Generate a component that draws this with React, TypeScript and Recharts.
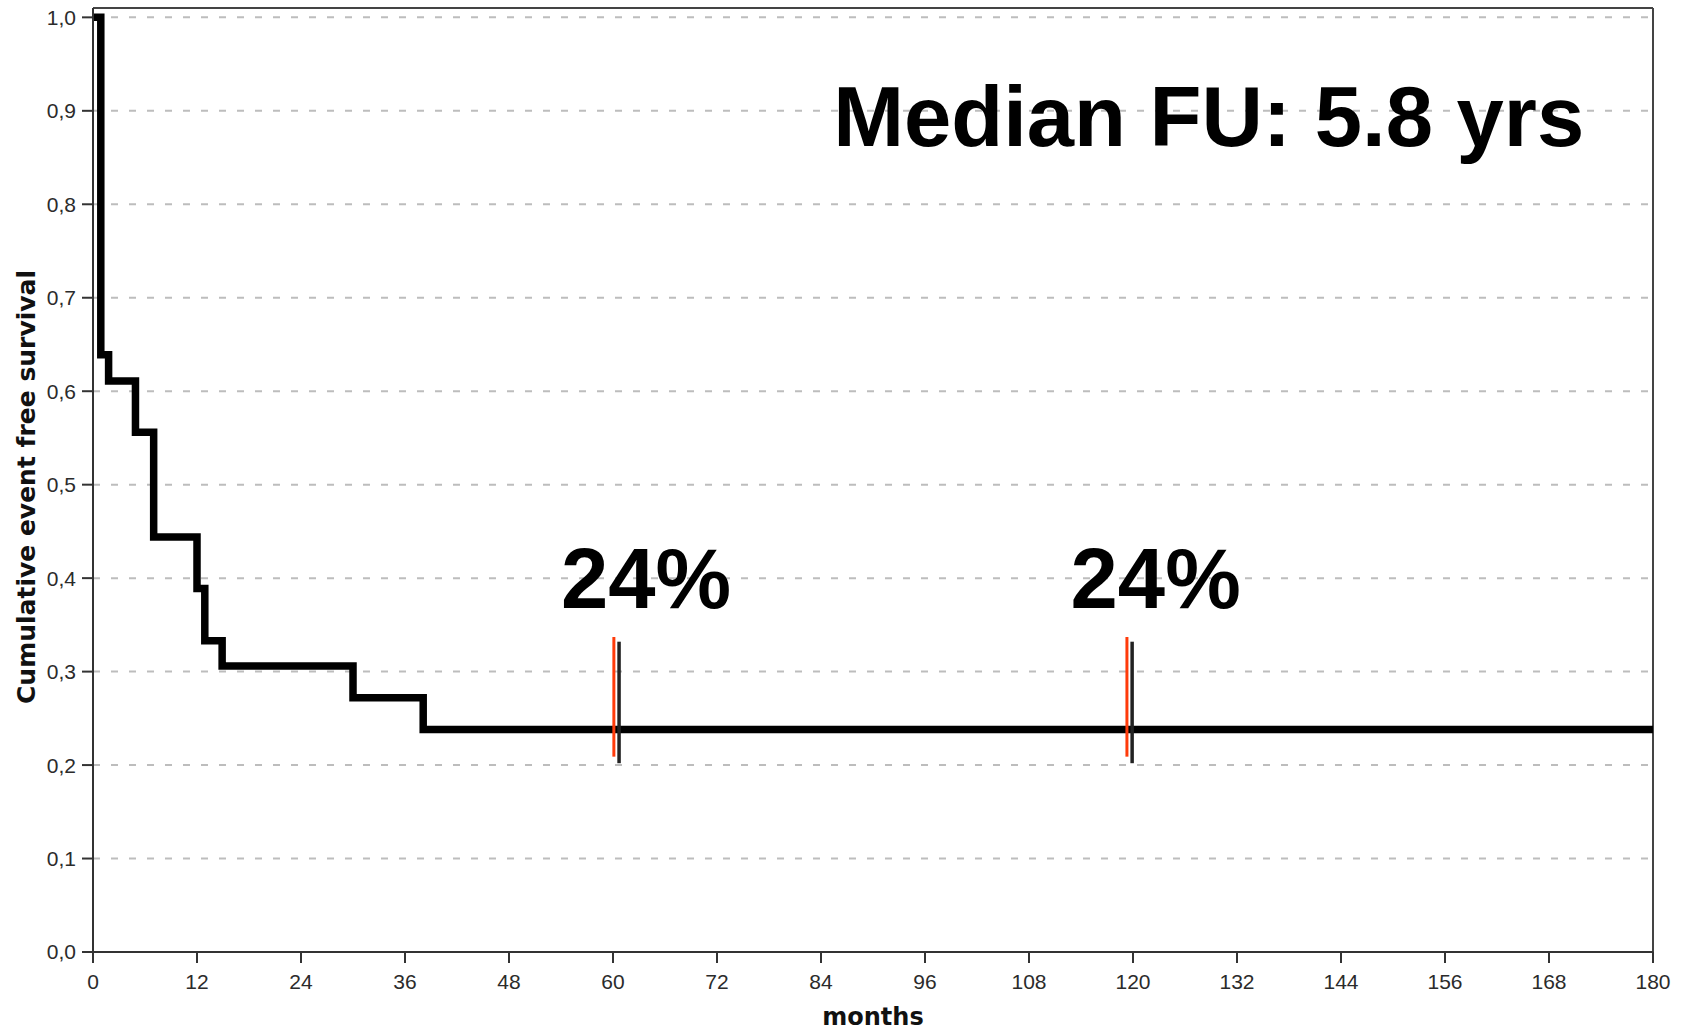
import React from 'react';
import {
  LineChart,
  Line,
  XAxis,
  YAxis,
  CartesianGrid,
  ReferenceLine,
  ReferenceDot
} from 'recharts';

// Kaplan-Meier step points (months, cumulative event free survival)
const months = [0, 0.9, 1.8, 4.9, 7.0, 12.0, 12.9, 14.9, 30.0, 38.1, 180];
const survival = [1.0, 0.639, 0.611, 0.556, 0.444, 0.389, 0.333, 0.306, 0.272, 0.238, 0.238];

const xTicks = [0, 12, 24, 36, 48, 60, 72, 84, 96, 108, 120, 132, 144, 156, 168, 180];
const yTicks = [0, 0.1, 0.2, 0.3, 0.4, 0.5, 0.6, 0.7, 0.8, 0.9, 1.0];
const yTop = 1.01;

// red / black marks at 5 and 10 years
const redMarkMonths = [60.1, 119.3];
const redMarkRange = [0.209, 0.337];
const blackMarkMonths = [60.7, 119.9];
const blackMarkRange = [0.202, 0.332];

const pctMonths = [54.0, 112.8];
const pctValue = 0.368;
const pctText = '24%';

const medianText = 'Median FU: 5.8 yrs';
const medianAt = { month: 85.4, value: 0.862 };

const data = months.map((m, i) => ({ month: m, survival: survival[i] }));

const tickStyle = { fontSize: 21, fill: '#2b2b2b', fontFamily: '"Liberation Sans", Arial, sans-serif' };
const bigText = { fontSize: 85, fontWeight: 700, fill: '#000', fontFamily: '"Liberation Sans", Arial, sans-serif' };

const fmtY = (v: number) => v.toFixed(1).replace('.', ',');

const BigLabel = (text: string) => (props: any) => (
  <text x={props.cx} y={props.cy} style={bigText}>{text}</text>
);

const YTitle = (props: any) => {
  const vb = props.viewBox;
  const x = vb.x + 26;
  const y = vb.y + vb.height / 2 + 7;
  return (
    <text
      x={x}
      y={y}
      transform={`rotate(-90 ${x} ${y})`}
      textAnchor="middle"
      dominantBaseline="central"
      style={{ fontSize: 25, fontWeight: 700, fill: '#111', fontFamily: '"DejaVu Sans", Verdana, sans-serif' }}
    >
      Cumulative event free survival
    </text>
  );
};

const XTitle = (props: any) => {
  const vb = props.viewBox;
  return (
    <text
      x={vb.x + vb.width / 2}
      y={vb.y + 73}
      textAnchor="middle"
      style={{ fontSize: 24, fontWeight: 700, fill: '#111', fontFamily: '"DejaVu Sans", Verdana, sans-serif' }}
    >
      months
    </text>
  );
};

const App: React.FC = () => {
  return (
    <div style={{ position: 'absolute', left: 0, top: 0, width: 1684, height: 1031, background: '#fff' }}>
      <LineChart width={1684} height={1031} data={data} margin={{ top: 8, right: 31, bottom: 0, left: 0 }}>
        <CartesianGrid vertical={false} stroke="#bdbdbd" strokeWidth={2} strokeDasharray="7 11" />
        <XAxis
          dataKey="month"
          type="number"
          domain={[0, 180]}
          ticks={xTicks}
          allowDataOverflow
          height={79}
          tickSize={11}
          tickMargin={11}
          tick={tickStyle}
          stroke="#333"
          strokeWidth={2}
          label={<XTitle />}
        />
        <YAxis
          type="number"
          domain={[0, yTop]}
          ticks={yTicks}
          allowDataOverflow
          width={93}
          tickSize={11}
          tickMargin={6}
          tickFormatter={fmtY}
          tick={tickStyle}
          stroke="#333"
          strokeWidth={2}
          label={<YTitle />}
        />
        <ReferenceLine y={yTop} stroke="#444" strokeWidth={2} />
        <ReferenceLine x={180} stroke="#444" strokeWidth={2} />
        <Line
          type="stepAfter"
          dataKey="survival"
          stroke="#000"
          strokeWidth={7.5}
          strokeLinejoin="miter"
          strokeLinecap="square"
          dot={false}
          isAnimationActive={false}
        />
        {redMarkMonths.map((m) => (
          <ReferenceLine
            key={'r' + m}
            segment={[{ x: m, y: redMarkRange[0] }, { x: m, y: redMarkRange[1] }]}
            stroke="#ff3b0a"
            strokeWidth={3}
          />
        ))}
        {blackMarkMonths.map((m) => (
          <ReferenceLine
            key={'b' + m}
            segment={[{ x: m, y: blackMarkRange[0] }, { x: m, y: blackMarkRange[1] }]}
            stroke="#222"
            strokeWidth={3.5}
          />
        ))}
        {pctMonths.map((m) => (
          <ReferenceDot key={'p' + m} x={m} y={pctValue} r={0} shape={BigLabel(pctText)} />
        ))}
        <ReferenceDot x={medianAt.month} y={medianAt.value} r={0} shape={BigLabel(medianText)} />
      </LineChart>
    </div>
  );
};

export default App;
